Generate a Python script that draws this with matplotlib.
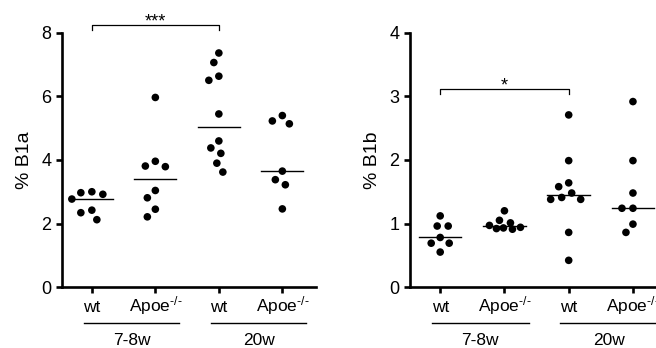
import numpy as np
import matplotlib
matplotlib.use("Agg")
import matplotlib.pyplot as plt
import matplotlib.transforms as mtransforms

plt.rcParams["font.family"] = ["Liberation Sans", "DejaVu Sans"]
plt.rcParams["mathtext.fontset"] = "custom"
plt.rcParams["mathtext.rm"] = "Liberation Sans"
plt.rcParams["mathtext.default"] = "regular"

categories = ["wt", r"Apoe$^{\text{-/-}}$", "wt", r"Apoe$^{\text{-/-}}$"]
groups = ["7-8w", "20w"]

b1a_wt_young = [3.00, 2.92, 2.97, 2.77, 2.42, 2.34, 2.12]
b1a_apoe_young = [5.97, 3.96, 3.79, 3.81, 3.04, 2.81, 2.45, 2.21]
b1a_wt_old = [7.37, 7.07, 6.51, 6.64, 5.45, 4.60, 4.38, 4.21, 3.90, 3.62]
b1a_apoe_old = [5.23, 5.14, 5.40, 3.65, 3.38, 3.22, 2.46]

b1b_wt_young = [0.96, 0.96, 1.12, 0.78, 0.69, 0.69, 0.55]
b1b_apoe_young = [1.20, 1.05, 1.01, 0.97, 0.94, 0.92, 0.91, 0.93]
b1b_wt_old = [2.71, 1.99, 1.64, 1.58, 1.48, 1.41, 1.38, 1.38, 0.86, 0.42]
b1b_apoe_old = [2.92, 1.99, 1.48, 1.24, 1.24, 0.99, 0.86]

panels = [
    ("% B1a", [b1a_wt_young, b1a_apoe_young, b1a_wt_old, b1a_apoe_old], 8, 2, "***", 8.25),
    ("% B1b", [b1b_wt_young, b1b_apoe_young, b1b_wt_old, b1b_apoe_old], 4, 1, "*", 3.12),
]


def swarm(ax, xc, vals, gap_px, maxw_px):
    # beeswarm in display space, limited width (points overlap when crowded)
    pts = ax.transData.transform(np.column_stack([np.full(len(vals), xc), vals]))
    order = np.argsort(-np.asarray(vals))
    cands = np.arange(-maxw_px, maxw_px + 0.01, 1.0)
    cands = cands[np.argsort(np.abs(cands), kind="stable")]
    placed = []
    xs = np.zeros(len(vals))
    for i in order:
        y = pts[i, 1]
        best, best_d = 0.0, -1
        for off in cands:
            d = min([np.hypot(off - px, y - py) for px, py in placed] or [1e9])
            if d >= gap_px:
                best = off
                break
            if d > best_d + 0.5:
                best, best_d = off, d
        placed.append((best, y))
        xs[i] = best
    inv = ax.transData.inverted()
    out = inv.transform(np.column_stack([pts[:, 0] + xs, pts[:, 1]]))
    return out[:, 0]


fig = plt.figure(figsize=(6.56, 3.48), dpi=100)
positions = [[62 / 656, 61 / 348, 254 / 656, 254 / 348],
             [410 / 656, 61 / 348, 257 / 656, 254 / 348]]

for pos, (ylabel, data, ymax, ystep, stars, by) in zip(positions, panels):
    ax = fig.add_axes(pos)
    ax.set_xlim(-0.47, 3.53)
    ax.set_ylim(0, ymax)
    ax.spines["top"].set_visible(False)
    ax.spines["right"].set_visible(False)
    ax.spines["left"].set_linewidth(1.9)
    ax.spines["bottom"].set_linewidth(1.9)
    ax.set_yticks(np.arange(0, ymax + ystep / 2, ystep))
    ax.set_xticks(range(len(categories)))
    ax.set_xticklabels([])
    ax.tick_params(axis="both", length=4.5, width=1.9, labelsize=13, pad=3, color="black")
    ax.set_ylabel(ylabel, fontsize=14, labelpad=6)

    trans = mtransforms.blended_transform_factory(ax.transData, ax.transAxes)
    for i, cat in enumerate(categories):
        ax.text(i, -0.098, cat, ha="center", va="baseline", fontsize=12.5, transform=trans)

    for i, vals in enumerate(data):
        xs = swarm(ax, i, vals, 10.5, 21)
        ax.scatter(xs, vals, s=30, color="black", edgecolors="none", zorder=3, clip_on=False)
        med = np.median(vals)
        ax.plot([i - 0.33, i + 0.33], [med, med], color="black", lw=1.0, zorder=2)

    # significance bracket
    tick = ymax * 0.02
    ax.plot([0, 0, 2, 2], [by - tick, by, by, by - tick], color="black", lw=0.9, clip_on=False)
    ax.text(1, by - ymax * 0.005, stars, ha="center", va="baseline", fontsize=13)

    # group labels below the category labels
    for g, name in enumerate(groups):
        x0 = 2 * g - 0.13
        x1 = 2 * g + 1.38
        ax.plot([x0, x1], [-0.142, -0.142], color="black", lw=1.0, transform=trans, clip_on=False)
        ax.text((x0 + x1) / 2, -0.21, name, ha="center", va="center", fontsize=12.5, transform=trans)

fig.savefig("out.png", dpi=100)
